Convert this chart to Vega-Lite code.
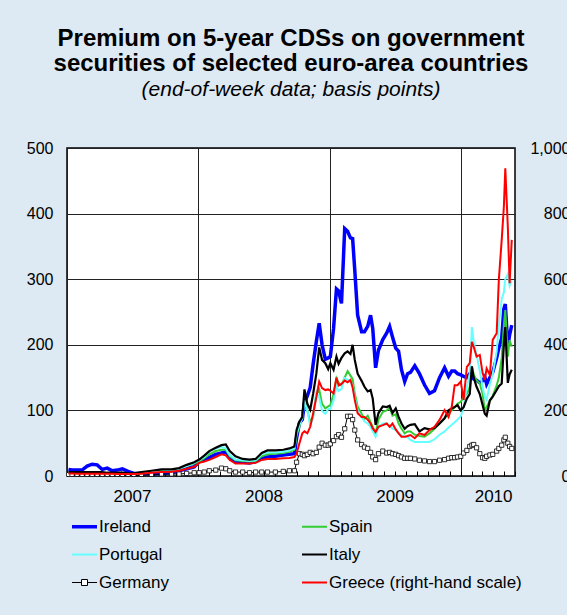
{
"$schema": "https://vega.github.io/schema/vega-lite/v6.json",
"autosize": {"type": "none"},
"width": 448,
"height": 328,
"padding": {"left": 67, "top": 148, "right": 52, "bottom": 139},
"background": "#dde9f3",
"title": {"text": ["Premium on 5-year CDSs on government", "securities of selected euro-area countries"], "subtitle": "(end-of-week data; basis points)", "anchor": "middle", "frame": "group", "font": "Liberation Sans", "fontSize": 24, "fontWeight": "bold", "color": "black", "lineHeight": 25, "subtitleFont": "Liberation Sans", "subtitleFontSize": 21, "subtitleFontStyle": "italic", "subtitleColor": "black", "subtitlePadding": 3, "offset": 40},
"datasets": {
"IE": [
{"d":"2007-01-05","v":10},{"d":"2007-01-15","v":9},{"d":"2007-01-29","v":9},{"d":"2007-02-12","v":9},{"d":"2007-02-26","v":15},{"d":"2007-03-12","v":18},{"d":"2007-03-26","v":17},{"d":"2007-04-09","v":10},{"d":"2007-04-23","v":12},{"d":"2007-05-07","v":8},{"d":"2007-05-21","v":9},{"d":"2007-06-04","v":11},{"d":"2007-06-20","v":7},{"d":"2007-07-06","v":4},{"d":"2007-07-27","v":4},{"d":"2007-08-24","v":4},{"d":"2007-09-21","v":4},{"d":"2007-10-19","v":5},{"d":"2007-11-09","v":8},{"d":"2007-11-30","v":11},{"d":"2007-12-21","v":14},
{"d":"2008-01-04","v":22},{"d":"2008-01-18","v":24},{"d":"2008-02-01","v":28},{"d":"2008-02-19","v":33},{"d":"2008-03-06","v":35},{"d":"2008-03-18","v":37},{"d":"2008-03-29","v":29},{"d":"2008-04-14","v":22},{"d":"2008-05-04","v":21},{"d":"2008-05-23","v":20},{"d":"2008-06-09","v":22},{"d":"2008-06-26","v":27},{"d":"2008-07-12","v":29},{"d":"2008-08-03","v":30},{"d":"2008-08-25","v":32},{"d":"2008-09-11","v":33},{"d":"2008-09-25","v":34},{"d":"2008-10-01","v":58},{"d":"2008-10-09","v":81},{"d":"2008-10-17","v":86},{"d":"2008-10-23","v":112},{"d":"2008-10-31","v":122},{"d":"2008-11-08","v":135},{"d":"2008-11-16","v":170},{"d":"2008-11-25","v":205},{"d":"2008-12-03","v":233},{"d":"2008-12-11","v":200},{"d":"2008-12-20","v":178},{"d":"2008-12-28","v":180},
{"d":"2009-01-03","v":182},{"d":"2009-01-12","v":225},{"d":"2009-01-20","v":285},{"d":"2009-01-26","v":282},{"d":"2009-02-03","v":263},{"d":"2009-02-12","v":377},{"d":"2009-02-20","v":373},{"d":"2009-02-28","v":363},{"d":"2009-03-06","v":362},{"d":"2009-03-12","v":314},{"d":"2009-03-20","v":245},{"d":"2009-03-31","v":220},{"d":"2009-04-08","v":220},{"d":"2009-04-17","v":228},{"d":"2009-04-25","v":245},{"d":"2009-05-01","v":225},{"d":"2009-05-09","v":165},{"d":"2009-05-17","v":192},{"d":"2009-05-29","v":208},{"d":"2009-06-09","v":218},{"d":"2009-06-17","v":228},{"d":"2009-06-25","v":212},{"d":"2009-07-04","v":195},{"d":"2009-07-12","v":190},{"d":"2009-07-20","v":162},{"d":"2009-07-29","v":144},{"d":"2009-08-06","v":156},{"d":"2009-08-14","v":158},{"d":"2009-08-26","v":168},{"d":"2009-09-08","v":156},{"d":"2009-09-22","v":139},{"d":"2009-10-06","v":126},{"d":"2009-10-20","v":130},{"d":"2009-11-03","v":150},{"d":"2009-11-17","v":165},{"d":"2009-11-28","v":152},{"d":"2009-12-07","v":160},{"d":"2009-12-15","v":160},{"d":"2009-12-23","v":156},
{"d":"2010-01-01","v":154},{"d":"2010-01-09","v":152},{"d":"2010-01-18","v":150},{"d":"2010-01-26","v":156},{"d":"2010-02-01","v":150},{"d":"2010-02-06","v":148},{"d":"2010-02-14","v":146},{"d":"2010-02-23","v":142},{"d":"2010-03-03","v":145},{"d":"2010-03-09","v":151},{"d":"2010-03-14","v":140},{"d":"2010-03-23","v":150},{"d":"2010-03-31","v":158},{"d":"2010-04-11","v":180},{"d":"2010-04-17","v":195},{"d":"2010-04-25","v":210},{"d":"2010-05-01","v":255},{"d":"2010-05-05","v":262},{"d":"2010-05-12","v":198},{"d":"2010-05-17","v":215},{"d":"2010-05-23","v":230}
],
"IT": [
{"d":"2007-01-05","v":6},{"d":"2007-01-15","v":6},{"d":"2007-01-29","v":6},{"d":"2007-02-12","v":6},{"d":"2007-02-26","v":6},{"d":"2007-03-12","v":6},{"d":"2007-03-26","v":6},{"d":"2007-04-09","v":6},{"d":"2007-04-23","v":5},{"d":"2007-05-07","v":5},{"d":"2007-05-21","v":5},{"d":"2007-06-04","v":5},{"d":"2007-06-20","v":4},{"d":"2007-07-06","v":4},{"d":"2007-07-27","v":6},{"d":"2007-08-24","v":8},{"d":"2007-09-21","v":10},{"d":"2007-10-19","v":10},{"d":"2007-11-09","v":12},{"d":"2007-11-30","v":17},{"d":"2007-12-21","v":21},
{"d":"2008-01-04","v":25},{"d":"2008-01-18","v":31},{"d":"2008-02-01","v":38},{"d":"2008-02-19","v":43},{"d":"2008-03-06","v":47},{"d":"2008-03-18","v":48},{"d":"2008-03-29","v":38},{"d":"2008-04-14","v":30},{"d":"2008-05-04","v":26},{"d":"2008-05-23","v":25},{"d":"2008-06-09","v":26},{"d":"2008-06-26","v":35},{"d":"2008-07-12","v":39},{"d":"2008-08-03","v":39},{"d":"2008-08-25","v":40},{"d":"2008-09-11","v":42},{"d":"2008-09-25","v":45},{"d":"2008-10-01","v":70},{"d":"2008-10-09","v":83},{"d":"2008-10-17","v":90},{"d":"2008-10-23","v":132},{"d":"2008-10-31","v":110},{"d":"2008-11-08","v":101},{"d":"2008-11-16","v":125},{"d":"2008-11-25","v":156},{"d":"2008-12-03","v":196},{"d":"2008-12-11","v":177},{"d":"2008-12-20","v":172},{"d":"2008-12-28","v":163},
{"d":"2009-01-03","v":172},{"d":"2009-01-12","v":162},{"d":"2009-01-20","v":182},{"d":"2009-01-26","v":171},{"d":"2009-02-03","v":180},{"d":"2009-02-12","v":187},{"d":"2009-02-20","v":190},{"d":"2009-02-28","v":186},{"d":"2009-03-06","v":200},{"d":"2009-03-12","v":177},{"d":"2009-03-20","v":156},{"d":"2009-03-31","v":145},{"d":"2009-04-08","v":136},{"d":"2009-04-17","v":129},{"d":"2009-04-25","v":131},{"d":"2009-05-01","v":118},{"d":"2009-05-09","v":78},{"d":"2009-05-17","v":96},{"d":"2009-05-29","v":106},{"d":"2009-06-09","v":105},{"d":"2009-06-17","v":107},{"d":"2009-06-25","v":96},{"d":"2009-07-04","v":103},{"d":"2009-07-12","v":90},{"d":"2009-07-20","v":80},{"d":"2009-07-29","v":72},{"d":"2009-08-06","v":76},{"d":"2009-08-14","v":78},{"d":"2009-08-26","v":79},{"d":"2009-09-08","v":68},{"d":"2009-09-22","v":73},{"d":"2009-10-06","v":71},{"d":"2009-10-20","v":73},{"d":"2009-11-03","v":80},{"d":"2009-11-17","v":88},{"d":"2009-11-28","v":100},{"d":"2009-12-07","v":103},{"d":"2009-12-15","v":105},{"d":"2009-12-23","v":108},
{"d":"2010-01-01","v":100},{"d":"2010-01-09","v":105},{"d":"2010-01-18","v":118},{"d":"2010-01-26","v":125},{"d":"2010-02-01","v":167},{"d":"2010-02-06","v":150},{"d":"2010-02-14","v":136},{"d":"2010-02-23","v":125},{"d":"2010-03-03","v":108},{"d":"2010-03-09","v":95},{"d":"2010-03-14","v":92},{"d":"2010-03-23","v":115},{"d":"2010-03-31","v":121},{"d":"2010-04-11","v":131},{"d":"2010-04-17","v":137},{"d":"2010-04-25","v":141},{"d":"2010-05-01","v":200},{"d":"2010-05-05","v":227},{"d":"2010-05-12","v":142},{"d":"2010-05-17","v":155},{"d":"2010-05-23","v":162}
],
"ES": [
{"d":"2007-01-05","v":5},{"d":"2007-01-15","v":5},{"d":"2007-01-29","v":5},{"d":"2007-02-12","v":5},{"d":"2007-02-26","v":5},{"d":"2007-03-12","v":5},{"d":"2007-03-26","v":5},{"d":"2007-04-09","v":5},{"d":"2007-04-23","v":4},{"d":"2007-05-07","v":4},{"d":"2007-05-21","v":4},{"d":"2007-06-04","v":4},{"d":"2007-06-20","v":3},{"d":"2007-07-06","v":3},{"d":"2007-07-27","v":4},{"d":"2007-08-24","v":6},{"d":"2007-09-21","v":8},{"d":"2007-10-19","v":9},{"d":"2007-11-09","v":11},{"d":"2007-11-30","v":15},{"d":"2007-12-21","v":19},
{"d":"2008-01-04","v":22},{"d":"2008-01-18","v":27},{"d":"2008-02-01","v":33},{"d":"2008-02-19","v":38},{"d":"2008-03-06","v":40},{"d":"2008-03-18","v":40},{"d":"2008-03-29","v":30},{"d":"2008-04-14","v":24},{"d":"2008-05-04","v":23},{"d":"2008-05-23","v":22},{"d":"2008-06-09","v":23},{"d":"2008-06-26","v":30},{"d":"2008-07-12","v":33},{"d":"2008-08-03","v":34},{"d":"2008-08-25","v":35},{"d":"2008-09-11","v":37},{"d":"2008-09-25","v":40},{"d":"2008-10-01","v":62},{"d":"2008-10-09","v":75},{"d":"2008-10-17","v":92},{"d":"2008-10-23","v":115},{"d":"2008-10-31","v":100},{"d":"2008-11-08","v":82},{"d":"2008-11-16","v":90},{"d":"2008-11-25","v":125},{"d":"2008-12-03","v":132},{"d":"2008-12-11","v":110},{"d":"2008-12-20","v":103},{"d":"2008-12-28","v":106},
{"d":"2009-01-03","v":108},{"d":"2009-01-12","v":125},{"d":"2009-01-20","v":149},{"d":"2009-01-26","v":142},{"d":"2009-02-03","v":138},{"d":"2009-02-12","v":150},{"d":"2009-02-20","v":160},{"d":"2009-02-28","v":153},{"d":"2009-03-06","v":148},{"d":"2009-03-12","v":126},{"d":"2009-03-20","v":106},{"d":"2009-03-31","v":95},{"d":"2009-04-08","v":87},{"d":"2009-04-17","v":92},{"d":"2009-04-25","v":82},{"d":"2009-05-01","v":75},{"d":"2009-05-09","v":65},{"d":"2009-05-17","v":86},{"d":"2009-05-29","v":98},{"d":"2009-06-09","v":100},{"d":"2009-06-17","v":104},{"d":"2009-06-25","v":92},{"d":"2009-07-04","v":94},{"d":"2009-07-12","v":80},{"d":"2009-07-20","v":72},{"d":"2009-07-29","v":65},{"d":"2009-08-06","v":68},{"d":"2009-08-14","v":68},{"d":"2009-08-26","v":63},{"d":"2009-09-08","v":61},{"d":"2009-09-22","v":60},{"d":"2009-10-06","v":65},{"d":"2009-10-20","v":72},{"d":"2009-11-03","v":80},{"d":"2009-11-17","v":88},{"d":"2009-11-28","v":96},{"d":"2009-12-07","v":100},{"d":"2009-12-15","v":105},{"d":"2009-12-23","v":110},
{"d":"2010-01-01","v":113},{"d":"2010-01-09","v":120},{"d":"2010-01-18","v":125},{"d":"2010-01-26","v":136},{"d":"2010-02-01","v":167},{"d":"2010-02-06","v":155},{"d":"2010-02-14","v":146},{"d":"2010-02-23","v":141},{"d":"2010-03-03","v":125},{"d":"2010-03-09","v":100},{"d":"2010-03-14","v":105},{"d":"2010-03-23","v":115},{"d":"2010-03-31","v":122},{"d":"2010-04-11","v":138},{"d":"2010-04-17","v":150},{"d":"2010-04-25","v":180},{"d":"2010-05-01","v":230},{"d":"2010-05-05","v":253},{"d":"2010-05-12","v":182},{"d":"2010-05-17","v":207},{"d":"2010-05-23","v":197}
],
"PT": [
{"d":"2007-01-05","v":5},{"d":"2007-01-15","v":5},{"d":"2007-01-29","v":5},{"d":"2007-02-12","v":5},{"d":"2007-02-26","v":5},{"d":"2007-03-12","v":5},{"d":"2007-03-26","v":5},{"d":"2007-04-09","v":5},{"d":"2007-04-23","v":4},{"d":"2007-05-07","v":4},{"d":"2007-05-21","v":4},{"d":"2007-06-04","v":4},{"d":"2007-06-20","v":3},{"d":"2007-07-06","v":3},{"d":"2007-07-27","v":4},{"d":"2007-08-24","v":6},{"d":"2007-09-21","v":7},{"d":"2007-10-19","v":9},{"d":"2007-11-09","v":11},{"d":"2007-11-30","v":15},{"d":"2007-12-21","v":20},
{"d":"2008-01-04","v":24},{"d":"2008-01-18","v":29},{"d":"2008-02-01","v":37},{"d":"2008-02-19","v":42},{"d":"2008-03-06","v":44},{"d":"2008-03-18","v":42},{"d":"2008-03-29","v":32},{"d":"2008-04-14","v":25},{"d":"2008-05-04","v":24},{"d":"2008-05-23","v":23},{"d":"2008-06-09","v":24},{"d":"2008-06-26","v":33},{"d":"2008-07-12","v":36},{"d":"2008-08-03","v":36},{"d":"2008-08-25","v":37},{"d":"2008-09-11","v":39},{"d":"2008-09-25","v":42},{"d":"2008-10-01","v":65},{"d":"2008-10-09","v":78},{"d":"2008-10-17","v":88},{"d":"2008-10-23","v":115},{"d":"2008-10-31","v":100},{"d":"2008-11-08","v":76},{"d":"2008-11-16","v":90},{"d":"2008-11-25","v":128},{"d":"2008-12-03","v":120},{"d":"2008-12-11","v":99},{"d":"2008-12-20","v":95},{"d":"2008-12-28","v":102},
{"d":"2009-01-03","v":102},{"d":"2009-01-12","v":115},{"d":"2009-01-20","v":136},{"d":"2009-01-26","v":130},{"d":"2009-02-03","v":133},{"d":"2009-02-12","v":149},{"d":"2009-02-20","v":147},{"d":"2009-02-28","v":144},{"d":"2009-03-06","v":138},{"d":"2009-03-12","v":120},{"d":"2009-03-20","v":100},{"d":"2009-03-31","v":90},{"d":"2009-04-08","v":83},{"d":"2009-04-17","v":80},{"d":"2009-04-25","v":75},{"d":"2009-05-01","v":68},{"d":"2009-05-09","v":60},{"d":"2009-05-17","v":75},{"d":"2009-05-29","v":80},{"d":"2009-06-09","v":80},{"d":"2009-06-17","v":77},{"d":"2009-06-25","v":72},{"d":"2009-07-04","v":70},{"d":"2009-07-12","v":66},{"d":"2009-07-20","v":62},{"d":"2009-07-29","v":60},{"d":"2009-08-06","v":59},{"d":"2009-08-14","v":55},{"d":"2009-08-26","v":52},{"d":"2009-09-08","v":52},{"d":"2009-09-22","v":52},{"d":"2009-10-06","v":52},{"d":"2009-10-20","v":56},{"d":"2009-11-03","v":63},{"d":"2009-11-17","v":68},{"d":"2009-11-28","v":74},{"d":"2009-12-07","v":78},{"d":"2009-12-15","v":82},{"d":"2009-12-23","v":86},
{"d":"2010-01-01","v":91},{"d":"2010-01-09","v":105},{"d":"2010-01-18","v":136},{"d":"2010-01-26","v":156},{"d":"2010-02-01","v":227},{"d":"2010-02-06","v":205},{"d":"2010-02-14","v":185},{"d":"2010-02-23","v":160},{"d":"2010-03-03","v":135},{"d":"2010-03-09","v":120},{"d":"2010-03-14","v":116},{"d":"2010-03-23","v":140},{"d":"2010-03-31","v":155},{"d":"2010-04-11","v":190},{"d":"2010-04-17","v":230},{"d":"2010-04-25","v":270},{"d":"2010-05-01","v":280},{"d":"2010-05-05","v":300},{"d":"2010-05-12","v":308},{"d":"2010-05-17","v":290},{"d":"2010-05-23","v":298}
],
"DE": [
{"d":"2007-01-05","v":2},{"d":"2007-01-15","v":2},{"d":"2007-01-29","v":2},{"d":"2007-02-12","v":2},{"d":"2007-02-26","v":2},{"d":"2007-03-12","v":2},{"d":"2007-03-26","v":2},{"d":"2007-04-09","v":2},{"d":"2007-04-23","v":2},{"d":"2007-05-07","v":2},{"d":"2007-05-21","v":2},{"d":"2007-06-04","v":2},{"d":"2007-06-20","v":1},{"d":"2007-07-06","v":1},{"d":"2007-07-27","v":1},{"d":"2007-08-24","v":2},{"d":"2007-09-21","v":3},{"d":"2007-10-19","v":3},{"d":"2007-11-09","v":3},{"d":"2007-11-30","v":4},{"d":"2007-12-21","v":5},
{"d":"2008-01-04","v":5},{"d":"2008-01-18","v":6},{"d":"2008-02-01","v":8},{"d":"2008-02-19","v":9},{"d":"2008-03-06","v":12},{"d":"2008-03-18","v":11},{"d":"2008-03-29","v":8},{"d":"2008-04-14","v":6},{"d":"2008-05-04","v":6},{"d":"2008-05-23","v":5},{"d":"2008-06-09","v":6},{"d":"2008-06-26","v":6},{"d":"2008-07-12","v":6},{"d":"2008-08-03","v":6},{"d":"2008-08-25","v":7},{"d":"2008-09-11","v":8},{"d":"2008-09-25","v":8},{"d":"2008-10-01","v":21},{"d":"2008-10-09","v":34},{"d":"2008-10-17","v":33},{"d":"2008-10-23","v":31},{"d":"2008-10-31","v":33},{"d":"2008-11-08","v":36},{"d":"2008-11-16","v":34},{"d":"2008-11-25","v":36},{"d":"2008-12-03","v":44},{"d":"2008-12-11","v":50},{"d":"2008-12-20","v":47},{"d":"2008-12-28","v":47},
{"d":"2009-01-03","v":49},{"d":"2009-01-12","v":54},{"d":"2009-01-20","v":60},{"d":"2009-01-26","v":63},{"d":"2009-02-03","v":59},{"d":"2009-02-12","v":72},{"d":"2009-02-20","v":91},{"d":"2009-02-28","v":91},{"d":"2009-03-06","v":86},{"d":"2009-03-12","v":70},{"d":"2009-03-20","v":55},{"d":"2009-03-31","v":48},{"d":"2009-04-08","v":44},{"d":"2009-04-17","v":42},{"d":"2009-04-25","v":36},{"d":"2009-05-01","v":29},{"d":"2009-05-09","v":25},{"d":"2009-05-17","v":34},{"d":"2009-05-29","v":38},{"d":"2009-06-09","v":35},{"d":"2009-06-17","v":36},{"d":"2009-06-25","v":34},{"d":"2009-07-04","v":33},{"d":"2009-07-12","v":31},{"d":"2009-07-20","v":29},{"d":"2009-07-29","v":27},{"d":"2009-08-06","v":27},{"d":"2009-08-14","v":27},{"d":"2009-08-26","v":26},{"d":"2009-09-08","v":24},{"d":"2009-09-22","v":23},{"d":"2009-10-06","v":22},{"d":"2009-10-20","v":22},{"d":"2009-11-03","v":24},{"d":"2009-11-17","v":25},{"d":"2009-11-28","v":27},{"d":"2009-12-07","v":28},{"d":"2009-12-15","v":28},{"d":"2009-12-23","v":29},
{"d":"2010-01-01","v":30},{"d":"2010-01-09","v":35},{"d":"2010-01-18","v":39},{"d":"2010-01-26","v":45},{"d":"2010-02-01","v":47},{"d":"2010-02-06","v":48},{"d":"2010-02-14","v":43},{"d":"2010-02-23","v":34},{"d":"2010-03-03","v":28},{"d":"2010-03-09","v":27},{"d":"2010-03-14","v":30},{"d":"2010-03-23","v":32},{"d":"2010-03-31","v":33},{"d":"2010-04-11","v":38},{"d":"2010-04-17","v":42},{"d":"2010-04-25","v":47},{"d":"2010-05-01","v":55},{"d":"2010-05-05","v":59},{"d":"2010-05-12","v":50},{"d":"2010-05-17","v":45},{"d":"2010-05-23","v":42}
],
"GR": [
{"d":"2007-01-05","v":8},{"d":"2007-01-15","v":8},{"d":"2007-01-29","v":7},{"d":"2007-02-12","v":7},{"d":"2007-02-26","v":7},{"d":"2007-03-12","v":7},{"d":"2007-03-26","v":7},{"d":"2007-04-09","v":7},{"d":"2007-04-23","v":7},{"d":"2007-05-07","v":7},{"d":"2007-05-21","v":6},{"d":"2007-06-04","v":6},{"d":"2007-06-20","v":6},{"d":"2007-07-06","v":6},{"d":"2007-07-27","v":7},{"d":"2007-08-24","v":10},{"d":"2007-09-21","v":12},{"d":"2007-10-19","v":13},{"d":"2007-11-09","v":16},{"d":"2007-11-30","v":22},{"d":"2007-12-21","v":28},
{"d":"2008-01-04","v":40},{"d":"2008-01-18","v":44},{"d":"2008-02-01","v":49},{"d":"2008-02-19","v":58},{"d":"2008-03-06","v":66},{"d":"2008-03-18","v":63},{"d":"2008-03-29","v":49},{"d":"2008-04-14","v":38},{"d":"2008-05-04","v":38},{"d":"2008-05-23","v":38},{"d":"2008-06-09","v":40},{"d":"2008-06-26","v":49},{"d":"2008-07-12","v":52},{"d":"2008-08-03","v":52},{"d":"2008-08-25","v":54},{"d":"2008-09-11","v":55},{"d":"2008-09-25","v":58},{"d":"2008-10-01","v":68},{"d":"2008-10-09","v":100},{"d":"2008-10-17","v":130},{"d":"2008-10-23","v":136},{"d":"2008-10-31","v":130},{"d":"2008-11-08","v":150},{"d":"2008-11-16","v":190},{"d":"2008-11-25","v":240},{"d":"2008-12-03","v":288},{"d":"2008-12-11","v":268},{"d":"2008-12-20","v":262},{"d":"2008-12-28","v":264},
{"d":"2009-01-03","v":260},{"d":"2009-01-12","v":252},{"d":"2009-01-20","v":300},{"d":"2009-01-26","v":276},{"d":"2009-02-03","v":281},{"d":"2009-02-12","v":291},{"d":"2009-02-20","v":286},{"d":"2009-02-28","v":293},{"d":"2009-03-06","v":270},{"d":"2009-03-12","v":232},{"d":"2009-03-20","v":191},{"d":"2009-03-31","v":180},{"d":"2009-04-08","v":180},{"d":"2009-04-17","v":172},{"d":"2009-04-25","v":160},{"d":"2009-05-01","v":145},{"d":"2009-05-09","v":134},{"d":"2009-05-17","v":150},{"d":"2009-05-29","v":155},{"d":"2009-06-09","v":160},{"d":"2009-06-17","v":150},{"d":"2009-06-25","v":160},{"d":"2009-07-04","v":142},{"d":"2009-07-12","v":130},{"d":"2009-07-20","v":120},{"d":"2009-07-29","v":120},{"d":"2009-08-06","v":122},{"d":"2009-08-14","v":125},{"d":"2009-08-26","v":115},{"d":"2009-09-08","v":130},{"d":"2009-09-22","v":125},{"d":"2009-10-06","v":140},{"d":"2009-10-20","v":150},{"d":"2009-11-03","v":171},{"d":"2009-11-17","v":201},{"d":"2009-11-28","v":180},{"d":"2009-12-07","v":211},{"d":"2009-12-15","v":277},{"d":"2009-12-23","v":277},
{"d":"2010-01-01","v":288},{"d":"2010-01-09","v":232},{"d":"2010-01-18","v":333},{"d":"2010-01-26","v":344},{"d":"2010-02-01","v":409},{"d":"2010-02-06","v":394},{"d":"2010-02-14","v":364},{"d":"2010-02-23","v":369},{"d":"2010-03-03","v":313},{"d":"2010-03-09","v":293},{"d":"2010-03-14","v":328},{"d":"2010-03-23","v":308},{"d":"2010-03-31","v":415},{"d":"2010-04-11","v":435},{"d":"2010-04-17","v":598},{"d":"2010-04-25","v":720},{"d":"2010-05-01","v":821},{"d":"2010-05-05","v":938},{"d":"2010-05-12","v":760},{"d":"2010-05-17","v":588},{"d":"2010-05-23","v":720}
]
},
"encoding": {
"x": {"field": "d", "type": "temporal", "scale": {"domain": [{"year": 2007, "month": 1, "date": 1}, {"year": 2010, "month": 6, "date": 1}]},
"axis": {"title": null, "tickCount": {"interval": "month", "step": 1}, "labelExpr": "(month(datum.value) == 6 || (year(datum.value) == 2010 && month(datum.value) == 3)) ? timeFormat(datum.value, '%Y') : ''", "labelOverlap": false, "labelFlush": false, "labelFontSize": 17, "labelPadding": 17, "labelColor": "black", "tickSize": -5, "tickColor": "black", "tickWidth": 1, "domain": false, "grid": true, "gridColor": "#222", "gridWidth": 1, "gridOpacity": {"condition": {"test": "month(datum.value) == 0", "value": 1}, "value": 0}}}
},
"layer": [
{
"encoding": {"y": {"field": "v", "type": "quantitative", "scale": {"domain": [0, 500]}, "axis": {"title": null, "values": [0, 100, 200, 300, 400, 500], "grid": true, "gridColor": "#222", "gridWidth": 1, "ticks": false, "domain": false, "labelFontSize": 16, "labelPadding": 14, "labelColor": "black"}}},
"layer": [
{"data": {"name": "IE"}, "mark": {"type": "line", "strokeWidth": 3.5, "clip": true}, "encoding": {"color": {"datum": "Ireland", "scale": {"domain": ["Ireland", "Portugal", "Germany", "Spain", "Italy", "Greece"], "range": ["#0000ff", "#66ffff", "#000000", "#33cc33", "#000000", "#ff0000"]},
"legend": {"orient": "none", "legendX": 9, "legendY": 370, "columns": 2, "title": null, "symbolSize": 625, "labelFontSize": 17, "labelFont": "Liberation Sans", "labelColor": "black", "rowPadding": 10, "columnPadding": 129, "labelOffset": 6, "labelLimit": 300, "labelExpr": "datum.value == 'Greece' ? 'Greece (right-hand scale)' : datum.value",
"encode": {"symbols": {"update": {"shape": {"signal": "datum.value == 'Germany' ? 'M-1,0H-0.24M0.24,0H1M-0.24,-0.24H0.24V0.24H-0.24Z' : 'M-1,0H1'"}, "strokeWidth": {"signal": "datum.value == 'Ireland' ? 3.5 : (datum.value == 'Germany' ? 1 : 2)"}, "fill": {"value": "white"}, "stroke": {"scale": "color", "field": "value"}}}}}}}},
{"data": {"name": "DE"}, "mark": {"type": "line", "strokeWidth": 1, "clip": true}, "encoding": {"color": {"datum": "Germany"}}},
{"data": {"name": "DE"}, "mark": {"type": "point", "shape": "square", "size": 18, "filled": true, "fill": "white", "stroke": "black", "strokeWidth": 0.8, "opacity": 1, "clip": true}},
{"data": {"name": "ES"}, "mark": {"type": "line", "strokeWidth": 2, "clip": true}, "encoding": {"color": {"datum": "Spain"}}},
{"data": {"name": "PT"}, "mark": {"type": "line", "strokeWidth": 2, "clip": true}, "encoding": {"color": {"datum": "Portugal"}}},
{"data": {"name": "IT"}, "mark": {"type": "line", "strokeWidth": 2.2, "clip": true}, "encoding": {"color": {"datum": "Italy"}}}
]
},
{"data": {"name": "GR"}, "mark": {"type": "line", "strokeWidth": 2, "clip": true},
"encoding": {"y": {"field": "v", "type": "quantitative", "scale": {"domain": [0, 1000]}, "axis": {"orient": "right", "title": null, "values": [0, 200, 400, 600, 800, 1000], "format": ",.0f", "grid": false, "ticks": false, "domain": false, "labelFontSize": 16, "labelAlign": "right", "labelPadding": 55, "labelColor": "black"}}, "color": {"datum": "Greece"}}}
],
"resolve": {"scale": {"y": "independent"}},
"config": {"view": {"stroke": "black", "strokeWidth": 1.5, "fill": "white"}, "font": "Liberation Sans", "axis": {"labelFont": "Liberation Sans"}}
}
